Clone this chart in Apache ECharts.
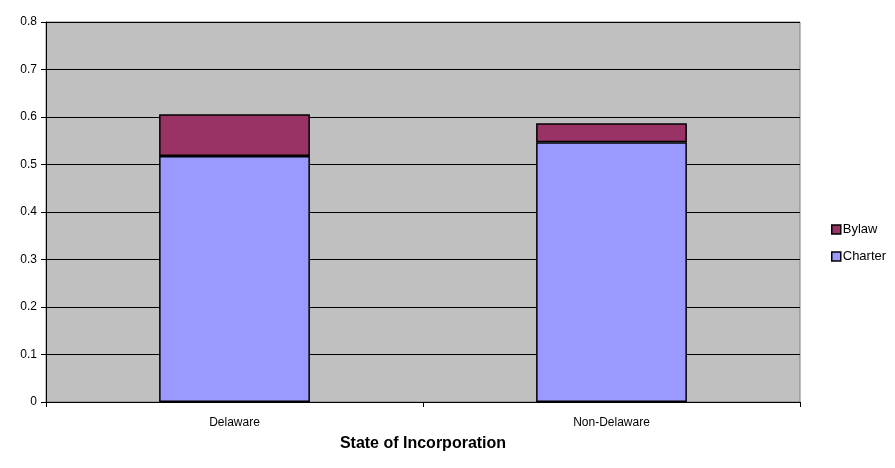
<!DOCTYPE html>
<html>
<head>
<meta charset="utf-8">
<script src="https://cdn.jsdelivr.net/npm/echarts@6/dist/echarts.min.js"></script>
<style>
  html, body { margin: 0; padding: 0; background: #fff; }
  #main { width: 895px; height: 468px; }
</style>
</head>
<body>
<div id="main"></div>
<script>
var categories = ['Delaware', 'Non-Delaware'];
var charterValues = [0.518, 0.547];
var bylawValues = [0.088, 0.040];

var myChart = echarts.init(document.getElementById('main'));

var option = {
    animation: false,
    textStyle: { fontFamily: 'Liberation Sans, Arial, sans-serif' },
    grid: {
        left: 46,
        right: 95,
        top: 22,
        bottom: 66,
        show: true,
        backgroundColor: '#c0c0c0',
        borderColor: '#808080',
        borderWidth: 1
    },
    legend: {
        orient: 'vertical',
        left: 826,
        top: 218,
        itemWidth: 9,
        itemHeight: 9,
        itemGap: 14,
        icon: 'rect',
        textStyle: { fontSize: 13, color: '#000', padding: [0, 0, 0, -3] },
        data: [
            { name: 'Bylaw', itemStyle: { borderColor: '#000', borderWidth: 1.5 } },
            { name: 'Charter', itemStyle: { borderColor: '#000', borderWidth: 1.5 } }
        ]
    },
    xAxis: {
        type: 'category',
        data: categories,
        name: 'State of Incorporation',
        nameLocation: 'middle',
        nameGap: 34,
        nameTextStyle: { fontSize: 16, fontWeight: 'bold', color: '#000' },
        axisLine: { lineStyle: { color: '#000', width: 1 } },
        axisTick: { show: true, length: 5, lineStyle: { color: '#000' } },
        axisLabel: { fontSize: 12, color: '#000', margin: 15 }
    },
    yAxis: {
        type: 'value',
        min: 0,
        max: 0.8,
        interval: 0.1,
        axisLine: { show: true, lineStyle: { color: '#000', width: 1 } },
        axisTick: { show: true, length: 5, lineStyle: { color: '#000' } },
        axisLabel: { fontSize: 12, color: '#000', margin: 9 },
        splitLine: { show: true, lineStyle: { color: '#000', width: 1 } }
    },
    series: [
        {
            name: 'Charter',
            type: 'bar',
            stack: 'total',
            barWidth: '40%',
            data: charterValues,
            itemStyle: { color: '#9999ff', borderColor: '#000', borderWidth: 1.5 }
        },
        {
            name: 'Bylaw',
            type: 'bar',
            stack: 'total',
            barWidth: '40%',
            data: bylawValues,
            itemStyle: { color: '#993366', borderColor: '#000', borderWidth: 1.5 }
        }
    ]
};

myChart.setOption(option);
</script>
</body>
</html>
